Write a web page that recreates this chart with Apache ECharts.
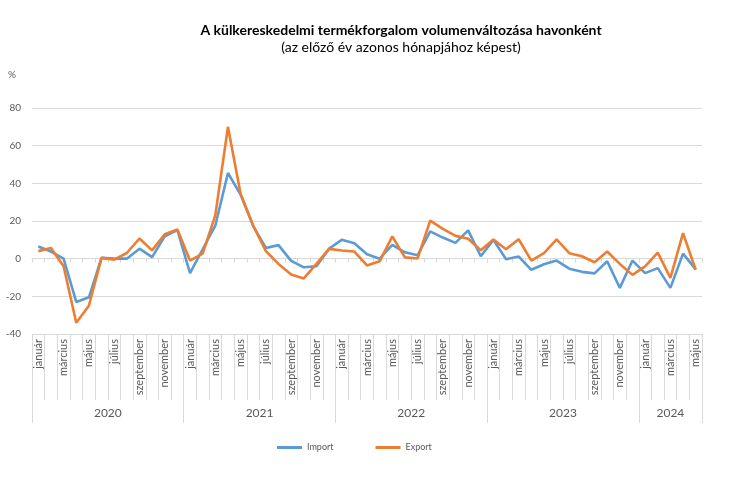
<!DOCTYPE html>
<html>
<head>
<meta charset="utf-8">
<script src="https://cdn.jsdelivr.net/npm/echarts@6/dist/echarts.min.js"></script>
<style>html,body{margin:0;padding:0;background:#fff}#c{width:730px;height:504px}</style>
</head>
<body>
<div id="c"></div>
<script>
const monthNames = ['január','február','március','április','május','június','július','augusztus','szeptember','október','november','december'];
const years = ['2020','2021','2022','2023','2024'];
const monthsPerYear = [12,12,12,12,5];
const importValues = [6.5,3.8,0,-23,-20.5,0.4,0,0,5.3,0.8,11.8,15.2,
  -7.7,5,17.5,45.5,34,17.3,5.7,7.2,-1.2,-4.6,-4,5.3,
  10,8.2,2.3,0,7.3,3.4,1.8,14.5,11.2,8.4,15,1.3,
  10,-0.3,1.1,-5.9,-3,-1,-5.3,-7,-7.8,-1.4,-15.5,-1,
  -7.7,-5,-15.5,2.7,-5.7];
const exportValues = [4,5.7,-4,-34,-25,0.4,-0.5,3,10.7,4.4,13,15.5,
  -1,2.7,23,70,34.5,17.5,4,-2.8,-8.4,-10.5,-2.8,5.2,
  4.3,3.8,-3.6,-1.4,11.8,0.7,0.1,20.2,15.8,12.1,10.6,4.5,
  10.2,5,10.3,-1,3,10.2,2.9,1.3,-1.9,3.8,-2.8,-8.6,
  -4.1,3.2,-10.2,13.6,-5.9];
const yTicks = {min:-40, max:80, interval:20};

const categories = [];
const yearBounds = [0];
const yearCenters = [];
let acc = 0;
monthsPerYear.forEach((n, yi) => {
  for (let m = 0; m < n; m++) categories.push(monthNames[m]);
  yearCenters.push(acc + n / 2);
  acc += n;
  yearBounds.push(acc);
});

const FONT = 'Lato, "Open Sans", sans-serif';
const GRID = '#d9d9d9';
const TXT = '#595959';

const chart = echarts.init(document.getElementById('c'), null, {renderer:'canvas'});
chart.setOption({
  animation: false,
  textStyle: {fontFamily: FONT},
  title: {
    text: 'A külkereskedelmi termékforgalom volumenváltozása havonként',
    subtext: '(az előző év azonos hónapjához képest)',
    left: 396, textAlign: 'center', top: 18, itemGap: 3,
    textStyle: {fontFamily: FONT, fontSize: 14, fontWeight: 'bold', color: '#000'},
    subtextStyle: {fontFamily: FONT, fontSize: 14, color: '#000'}
  },
  legend: {
    bottom: 47, left: 272,
    itemWidth: 25, itemHeight: 3, itemGap: 42,
    icon: 'rect',
    textStyle: {fontFamily: FONT, fontSize: 9, color: TXT},
    data: ['Import','Export']
  },
  grid: {left: 32, right: 28, top: 108, bottom: 170, containLabel: false},
  xAxis: [
    {
      type: 'category', data: categories, position: 'bottom',
      axisLine: {show: true, onZero: true, lineStyle: {color: GRID, width: 1}},
      axisTick: {show: true, interval: 0, length: 4, lineStyle: {color: GRID}},
      axisLabel: {show: false},
      splitLine: {show: false}
    },
    {
      type: 'category', data: categories, position: 'bottom',
      axisLine: {show: false, onZero: false},
      axisTick: {show: true, interval: 0, length: 66, lineStyle: {color: GRID}},
      axisLabel: {show: true, interval: 1, rotate: 90, margin: 5, fontSize: 11, color: TXT, fontFamily: FONT},
      splitLine: {show: false}
    },
    {
      type: 'value', min: 0, max: acc, position: 'bottom',
      axisLine: {show: false, onZero: false},
      axisTick: {show: true, length: 89, customValues: yearBounds, lineStyle: {color: GRID}},
      axisLabel: {show: true, margin: 73, fontSize: 12, color: TXT, fontFamily: FONT,
        customValues: yearCenters,
        formatter: v => years[yearCenters.indexOf(v)] || ''},
      splitLine: {show: false}
    }
  ],
  yAxis: {
    type: 'value', min: yTicks.min, max: yTicks.max, interval: yTicks.interval,
    name: '%', nameLocation: 'end', nameGap: 28,
    nameTextStyle: {fontFamily: FONT, fontSize: 10, color: TXT, align: 'center', padding: [0, 40, 0, 0]},
    axisLine: {show: false}, axisTick: {show: false},
    axisLabel: {fontSize: 10, color: TXT, margin: 11, fontFamily: FONT},
    splitLine: {show: true, lineStyle: {color: GRID, width: 1}}
  },
  series: [
    {name: 'Import', type: 'line', data: importValues, xAxisIndex: 0, showSymbol: false, symbol: 'none',
      lineStyle: {color: '#5b9bd5', width: 2.6}, itemStyle: {color: '#5b9bd5'}},
    {name: 'Export', type: 'line', data: exportValues, xAxisIndex: 0, showSymbol: false, symbol: 'none',
      lineStyle: {color: '#ed7d31', width: 2.6}, itemStyle: {color: '#ed7d31'}}
  ]
});
</script>
</body>
</html>
